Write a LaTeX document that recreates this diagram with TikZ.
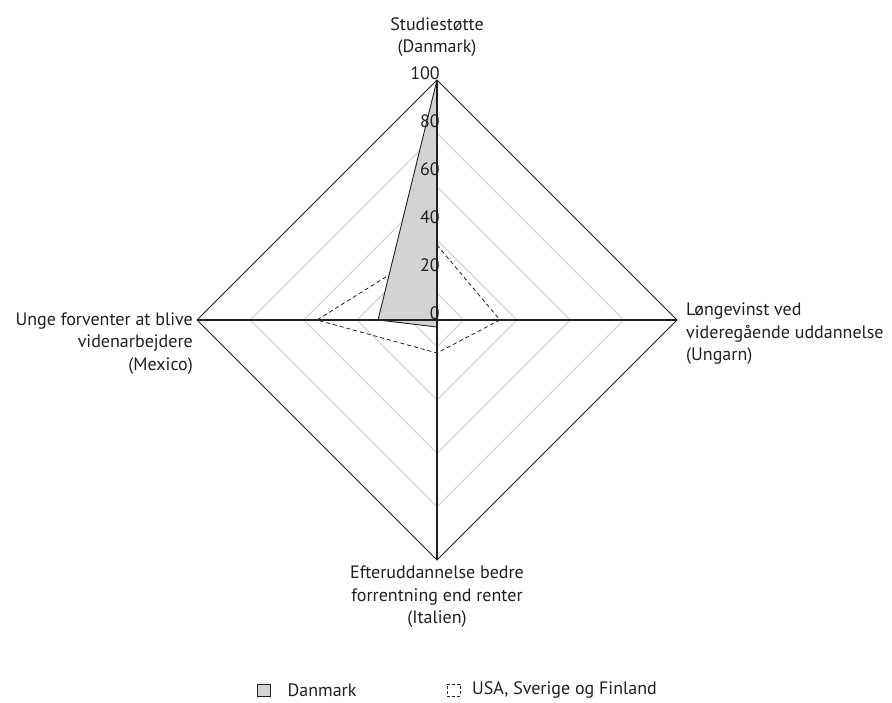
\documentclass[tikz,border=0pt]{standalone}
\usepackage{fontspec}
\setmainfont{PT Sans}
\usetikzlibrary{positioning}
\definecolor{txtgray}{HTML}{231F20}
\definecolor{ringgray}{HTML}{CDCDCD}
\definecolor{fillgray}{HTML}{D1D3D4}
\tikzset{
  axislabel/.style={font=\fontsize{18}{22.5}\selectfont, text=txtgray, inner sep=0pt},
  ticklabel/.style={font=\fontsize{18}{18}\selectfont, text=txtgray, inner sep=0pt, anchor=east},
  ring/.style={draw=ringgray, line width=0.9pt},
  frame/.style={draw=txtgray, line width=0.9pt},
  axisline/.style={draw=txtgray, line width=1.2pt},
  danmark/.style={draw=txtgray, fill=fillgray, line width=0.9pt, line join=round},
  nordic/.style={draw=txtgray, dashed, dash pattern=on 4pt off 3pt, line width=0.8pt},
  legendbox/.style={minimum width=13pt, minimum height=12pt, inner sep=0pt}
}

\begin{document}
\begin{tikzpicture}[x=1pt,y=1pt]
  \useasboundingbox (-437,-382) rectangle (455,320);

  % grid
  \foreach \k in {1,3,5,7}
    \draw[ring] (240*\k/9,0) -- (0,240*\k/9) -- (-240*\k/9,0) -- (0,-240*\k/9) -- cycle;

  \coordinate (top) at (0,240);
  \coordinate (right) at (240,0);
  \coordinate (bottom) at (0,-240);
  \coordinate (left) at (-240,0);
  \coordinate (o) at (0,0);

  % USA, Sverige og Finland
  \coordinate (ut) at (0,75);
  \coordinate (ur) at (63,0);
  \coordinate (ub) at (0,-33);
  \coordinate (ul) at (-120,0);
  \draw[nordic] (ut)--(ur)--(ub)--(ul)--cycle;

  % Danmark
  \coordinate (db) at (0,-7);
  \coordinate (dl) at (-59,0);
  \draw[danmark] (top)--(o)--(db)--(dl)--cycle;

  \draw[axisline] (top)--(bottom);
  \draw[axisline] (left)--(right);
  \draw[frame] (top)--(right)--(bottom)--(left)--cycle;

  \foreach \v in {0,20,...,100}
    \node[ticklabel] (tick\v) at (3,2.4*\v+7) {\v};

  \node[axislabel, align=center] (studie) at (0,283) {Studiestøtte\\(Danmark)};
  \node[axislabel, align=left, anchor=west] (loen) at (249,-14)
    {Løngevinst ved\\videregående uddannelse\\(Ungarn)};
  \node[axislabel, align=center] (efter) at (0,-277)
    {Efteruddannelse bedre\\forrentning end renter\\(Italien)};
  \node[axislabel, align=right, anchor=east] (unge) at (-244,-23.5)
    {Unge forventer at blive\\videnarbejdere\\(Mexico)};

  % legend
  \node[legendbox, draw=txtgray, fill=fillgray, line width=0.8pt] (dkbox) at (-173.5,-370) {};
  \node[axislabel, right=17pt of dkbox] (dktext) {Danmark};
  \node[legendbox, draw=txtgray, dashed, dash pattern=on 3pt off 2pt, line width=0.8pt] (usbox) at (17,-370) {};
  \node[axislabel, right=11pt of usbox] (ustext) {USA, Sverige og Finland};
\end{tikzpicture}
\end{document}
